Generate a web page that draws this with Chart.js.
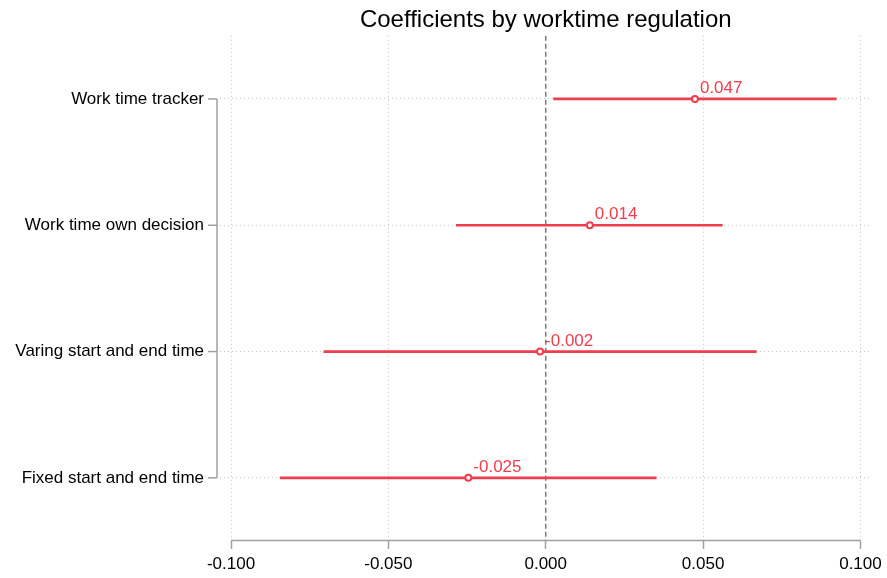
<!DOCTYPE html>
<html>
<head>
<meta charset="utf-8">
<script src="https://cdn.jsdelivr.net/npm/chart.js@4"></script>
<style>
  html, body { margin: 0; padding: 0; background: #fff; }
  #wrap { width: 887px; height: 578px; }
</style>
</head>
<body>
<div id="wrap"><canvas id="c"></canvas></div>
<script>
const categories = ['Work time tracker', 'Work time own decision', 'Varing start and end time', 'Fixed start and end time'];
const coef = [0.0474, 0.0140, -0.0018, -0.0246];
const ciLow = [0.0025, -0.0284, -0.0705, -0.0844];
const ciHigh = [0.0923, 0.0561, 0.0669, 0.0351];
const xTicks = [-0.1, -0.05, 0, 0.05, 0.1];

const red = '#ee3d4d';
const axisGray = '#a0a0a0';
const gridGray = '#c8c8c8';

Chart.defaults.font.family = '"Liberation Sans", Arial, sans-serif';

// axis lines stata style: only between first and last tick, plus the dashed zero line
const axesPlugin = {
  id: 'stataAxes',
  beforeDatasetsDraw(chart) {
    const { ctx, chartArea, scales: { x, y } } = chart;
    ctx.save();
    const x0 = x.getPixelForValue(0);
    ctx.strokeStyle = '#7a7a7a';
    ctx.lineWidth = 1.5;
    ctx.setLineDash([5, 3]);
    ctx.beginPath();
    ctx.moveTo(x0, chartArea.top);
    ctx.lineTo(x0, chartArea.bottom);
    ctx.stroke();

    ctx.setLineDash([]);
    ctx.strokeStyle = axisGray;
    const yb = chartArea.bottom - 0.5;
    ctx.beginPath();
    ctx.moveTo(x.getPixelForValue(xTicks[0]), yb);
    ctx.lineTo(x.getPixelForValue(xTicks[xTicks.length - 1]), yb);
    ctx.stroke();

    const xa = chartArea.left - 3;
    ctx.beginPath();
    ctx.moveTo(xa, y.getPixelForValue(0));
    ctx.lineTo(xa, y.getPixelForValue(categories.length - 1));
    ctx.stroke();
    categories.forEach((c, i) => {
      const yy = y.getPixelForValue(i);
      ctx.beginPath();
      ctx.moveTo(xa - 9, yy);
      ctx.lineTo(xa, yy);
      ctx.stroke();
    });
    ctx.restore();
  }
};

const labelPlugin = {
  id: 'coefLabels',
  afterDatasetsDraw(chart) {
    const ctx = chart.ctx;
    const meta = chart.getDatasetMeta(1);
    ctx.save();
    ctx.fillStyle = red;
    ctx.font = '17px "Liberation Sans", Arial, sans-serif';
    ctx.textAlign = 'left';
    ctx.textBaseline = 'alphabetic';
    meta.data.forEach((pt, i) => {
      ctx.fillText(coef[i].toFixed(3), pt.x + 5, pt.y - 6);
    });
    ctx.restore();
  }
};

new Chart(document.getElementById('c'), {
  type: 'bar',
  data: {
    labels: categories,
    datasets: [
      {
        type: 'bar',
        data: categories.map((c, i) => [ciLow[i], ciHigh[i]]),
        backgroundColor: red,
        barThickness: 2,
        borderSkipped: false,
        order: 2
      },
      {
        type: 'line',
        indexAxis: 'y',
        data: coef,
        showLine: false,
        pointRadius: 3,
        pointBorderWidth: 2,
        pointBackgroundColor: '#fff',
        pointBorderColor: red,
        order: 1
      }
    ]
  },
  options: {
    indexAxis: 'y',
    responsive: true,
    maintainAspectRatio: false,
    animation: false,
    layout: { padding: { left: 0, right: 15, top: 0, bottom: 0 } },
    plugins: {
      legend: { display: false },
      tooltip: { enabled: false },
      title: {
        display: true,
        text: 'Coefficients by worktime regulation',
        fullSize: false,
        color: '#000',
        font: { size: 24, weight: 'normal' },
        padding: { top: 6, bottom: 1 }
      }
    },
    scales: {
      x: {
        type: 'linear',
        min: -0.1035,
        max: 0.1035,
        afterBuildTicks: s => { s.ticks = xTicks.map(v => ({ value: v })); },
        afterFit: s => { s.height = 37; },
        ticks: {
          callback: v => v.toFixed(3),
          color: '#000',
          font: { size: 17 },
          padding: 5,
          maxRotation: 0,
          autoSkip: false
        },
        grid: {
          color: ctx => (ctx.tick && ctx.tick.value === 0) ? 'rgba(0,0,0,0)' : gridGray,
          lineWidth: 1,
          drawTicks: true,
          tickLength: 8,
          tickColor: axisGray,
          tickWidth: 1.5,
          tickBorderDash: []
        },
        border: { display: false, dash: [1, 3] }
      },
      y: {
        type: 'category',
        offset: true,
        afterFit: s => { s.width = 220; },
        ticks: { color: '#000', font: { size: 17 }, padding: 16 },
        grid: { color: gridGray, drawTicks: false, offset: false },
        border: { display: false, dash: [1, 3] }
      }
    }
  },
  plugins: [axesPlugin, labelPlugin]
});
</script>
</body>
</html>
